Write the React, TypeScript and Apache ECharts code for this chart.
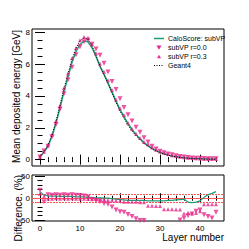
import React, { useEffect, useRef } from 'react';
import * as echarts from 'echarts';

const layers = [0, 1, 2, 3, 4, 5, 6, 7, 8, 9, 10, 11, 12, 13, 14, 15, 16, 17, 18, 19, 20, 21, 22, 23, 24, 25, 26, 27, 28, 29, 30, 31, 32, 33, 34, 35, 36, 37, 38, 39, 40, 41, 42, 43, 44];

const geant4 = [0.2, 0.5, 0.9, 1.55, 2.4, 3.4, 4.45, 5.4, 6.3, 7.0, 7.45, 7.65, 7.55, 7.15, 6.55, 5.9, 5.35, 4.8, 4.2, 3.6, 3.05, 2.6, 2.15, 1.8, 1.5, 1.25, 1.02, 0.83, 0.67, 0.54, 0.43, 0.35, 0.28, 0.22, 0.18, 0.14, 0.11, 0.09, 0.07, 0.06, 0.05, 0.04, 0.035, 0.03, 0.03];
const caloScore = [0.17, 0.47, 0.855, 1.47, 2.28, 3.26, 4.27, 5.18, 6.11, 6.79, 7.23, 7.45, 7.4, 7.02, 6.48, 5.84, 5.35, 4.8, 4.24, 3.67, 3.14, 2.7, 2.26, 1.89, 1.58, 1.31, 1.07, 0.88, 0.71, 0.57, 0.46, 0.37, 0.29, 0.23, 0.19, 0.144, 0.112, 0.097, 0.076, 0.065, 0.053, 0.039, 0.032, 0.027, 0.026];
const subVP00 = [0.16, 0.54, 0.84, 1.43, 2.21, 3.16, 4.14, 5.02, 5.8, 6.58, 7.08, 7.4, 7.5, 7.25, 6.95, 6.55, 6.05, 5.5, 4.9, 4.4, 3.82, 3.28, 2.82, 2.42, 2.03, 1.72, 1.38, 1.1, 0.84, 0.66, 0.52, 0.43, 0.36, 0.3, 0.25, 0.2, 0.16, 0.13, 0.11, 0.09, 0.08, 0.07, 0.06, 0.05, 0.05];
const subVP03 = [0.18, 0.49, 0.9, 1.57, 2.42, 3.4, 4.49, 5.4, 6.36, 7.0, 7.5, 7.7, 7.65, 7.25, 6.68, 6.02, 5.51, 4.99, 4.37, 3.78, 3.23, 2.8, 2.32, 1.94, 1.62, 1.36, 1.11, 0.97, 0.78, 0.63, 0.51, 0.44, 0.35, 0.28, 0.22, 0.18, 0.15, 0.12, 0.095, 0.08, 0.064, 0.046, 0.04, 0.035, 0.035];

const diffCalo = [15, 7, 5, 5, 5, 4, 4, 4, 4, 3, 3, 3, 2, 2, 1, 1, 0, 0, -1, -2, -3, -4, -5, -5, -5, -5, -5, -6, -6, -6, -6, -6, -5, -5, -4, -3, -2, -9, -10, -9, -6, 2, 8, 11, 15];
const diffSub00 = [18, -8, 8, 7, 8, 7, 8, 7, 8, 7, 6, 5, 3, -3, -6, -8, -12, -14, -20, -27, -31, -32, -37, -42, -47, -51, -51, -58, -63, -66, -68, -68, -66, -62, -57, -50, -45, -40, -36, -30, -27, -38, -42, -45, -32];
const diffSub03 = [10, 4, -1, -1, 0, -1, 0, -1, 0, -1, -1, -1, -2, -2, -2, -3, -3, -4, -5, -5, -6, -8, -8, -8, -8, -9, -9, -17, -17, -18, -18, -25, -25, -25, -26, -26, -35, -33, -35, -34, -30, -14, -14, -14, -14];

const xMajor = [0, 10, 20, 30, 40];
const xMinor = [0, 2, 4, 6, 8, 10, 12, 14, 16, 18, 20, 22, 24, 26, 28, 30, 32, 34, 36, 38, 40, 42, 44];
const yTopMajor = [0, 2, 4, 6, 8];
const yTopMinor = [0, 0.5, 1, 1.5, 2, 2.5, 3, 3.5, 4, 4.5, 5, 5.5, 6, 6.5, 7, 7.5, 8];
const yBotMajor = [-50, 0, 50];
const yBotMinor = [-50, -40, -30, -20, -10, 0, 10, 20, 30, 40, 50];
const refLines = [0, 10, -10];

const FONT = 'Liberation Sans, Arial, Helvetica, sans-serif';
const GREEN = '#1b9e77';
const PINK = '#e7298a';

const zip = (ys: number[]) => layers.map((x, i) => [x, ys[i]]);

function axis(kind: 'x' | 'y', gridIndex: number, position: string, min: number, max: number, values: number[], len: number, labels: boolean) {
  return {
    type: 'value',
    gridIndex,
    position,
    min,
    max,
    axisLine: { show: false },
    splitLine: { show: false },
    axisTick: { show: true, inside: true, length: len, customValues: values, lineStyle: { color: '#000', width: 1 } },
    axisLabel: {
      show: labels,
      customValues: values,
      margin: kind === 'x' ? 3 : 2,
      fontFamily: FONT,
      fontSize: 8,
      color: '#000',
    },
  };
}

export default function App() {
  const ref = useRef<HTMLDivElement>(null);
  useEffect(() => {
    const chart = echarts.init(ref.current!, null, { renderer: 'svg' });
    const option = {
      animation: false,
      backgroundColor: '#fff',
      grid: [
        { left: 32, top: 29, width: 192, height: 137, show: true, borderColor: '#000', borderWidth: 1, backgroundColor: 'transparent' },
        { left: 32, top: 175, width: 192, height: 46, show: true, borderColor: '#000', borderWidth: 1, backgroundColor: 'transparent' },
      ],
      xAxis: [
        axis('x', 0, 'bottom', -2, 46, xMajor, 5, false),
        axis('x', 0, 'bottom', -2, 46, xMinor, 2.5, false),
        axis('x', 0, 'top', -2, 46, xMajor, 5, false),
        axis('x', 0, 'top', -2, 46, xMinor, 2.5, false),
        axis('x', 1, 'bottom', -2, 46, xMajor, 5, true),
        axis('x', 1, 'bottom', -2, 46, xMinor, 2.5, false),
        axis('x', 1, 'top', -2, 46, xMajor, 5, false),
        axis('x', 1, 'top', -2, 46, xMinor, 2.5, false),
      ],
      yAxis: [
        axis('y', 0, 'left', -0.4, 8.2, yTopMajor, 5, true),
        axis('y', 0, 'left', -0.4, 8.2, yTopMinor, 2.5, false),
        axis('y', 0, 'right', -0.4, 8.2, yTopMajor, 5, false),
        axis('y', 0, 'right', -0.4, 8.2, yTopMinor, 2.5, false),
        axis('y', 1, 'left', -52, 53, yBotMajor, 5, true),
        axis('y', 1, 'left', -52, 53, yBotMinor, 2.5, false),
        axis('y', 1, 'right', -52, 53, yBotMajor, 5, false),
        axis('y', 1, 'right', -52, 53, yBotMinor, 2.5, false),
      ],
      series: [
        {
          name: 'CaloScore: subVP', type: 'line', xAxisIndex: 0, yAxisIndex: 0, data: zip(caloScore),
          symbol: 'none', lineStyle: { color: GREEN, width: 1.5 }, z: 2,
        },
        {
          name: 'Geant4', type: 'line', xAxisIndex: 0, yAxisIndex: 0, data: zip(geant4),
          symbol: 'none', lineStyle: { color: '#000', width: 1, type: [1, 1.5] }, z: 4,
        },
        {
          name: 'subVP r=0.0', type: 'scatter', xAxisIndex: 0, yAxisIndex: 0, data: zip(subVP00),
          symbol: 'triangle', symbolRotate: 180, symbolSize: 5, itemStyle: { color: PINK }, z: 3,
        },
        {
          name: 'subVP r=0.3', type: 'scatter', xAxisIndex: 0, yAxisIndex: 0, data: zip(subVP03),
          symbol: 'triangle', symbolSize: 4, itemStyle: { color: PINK }, z: 3,
        },
        {
          name: 'diff CaloScore', type: 'line', xAxisIndex: 4, yAxisIndex: 4, data: zip(diffCalo),
          symbol: 'none', lineStyle: { color: GREEN, width: 1.2 }, z: 3,
          markLine: {
            silent: true, symbol: 'none', label: { show: false }, z: 1,
            data: refLines.map((v) => ({ yAxis: v, lineStyle: { color: '#f55', width: 1, type: v === 0 ? 'solid' : [2, 1] } })),
          },
        },
        {
          name: 'diff r=0.0', type: 'scatter', xAxisIndex: 4, yAxisIndex: 4, data: zip(diffSub00),
          symbol: 'triangle', symbolRotate: 180, symbolSize: 5, itemStyle: { color: PINK }, z: 4,
        },
        {
          name: 'diff r=0.3', type: 'scatter', xAxisIndex: 4, yAxisIndex: 4, data: zip(diffSub03),
          symbol: 'triangle', symbolSize: 4, itemStyle: { color: PINK }, z: 4,
        },
      ],
      graphic: [
        { type: 'text', x: 16, y: 30, rotation: Math.PI / 2, style: { text: 'Mean deposited energy [GeV]', font: `10px ${FONT}`, fill: '#000', align: 'right', verticalAlign: 'middle' } },
        { type: 'text', x: 18, y: 175, rotation: Math.PI / 2, style: { text: 'Difference. (%)', font: `10px ${FONT}`, fill: '#000', align: 'right', verticalAlign: 'middle' } },
        { type: 'text', x: 224, y: 237, style: { text: 'Layer number', font: `10px ${FONT}`, fill: '#000', align: 'right', verticalAlign: 'middle' } },
        { type: 'line', shape: { x1: 154, y1: 38.5, x2: 164, y2: 38.5 }, style: { stroke: GREEN, lineWidth: 1.5 } },
        { type: 'text', x: 168, y: 38.5, style: { text: 'CaloScore: subVP', font: `7px ${FONT}`, fill: '#000', align: 'left', verticalAlign: 'middle' } },
        { type: 'polygon', shape: { points: [[156.5, 45.5], [161.5, 45.5], [159, 49.8]] }, style: { fill: PINK } },
        { type: 'text', x: 168, y: 47.5, style: { text: 'subVP r=0.0', font: `7px ${FONT}`, fill: '#000', align: 'left', verticalAlign: 'middle' } },
        { type: 'polygon', shape: { points: [[157, 58.2], [161, 58.2], [159, 54.8]] }, style: { fill: PINK } },
        { type: 'text', x: 168, y: 56.5, style: { text: 'subVP r=0.3', font: `7px ${FONT}`, fill: '#000', align: 'left', verticalAlign: 'middle' } },
        { type: 'line', shape: { x1: 154, y1: 65.5, x2: 164, y2: 65.5 }, style: { stroke: '#000', lineWidth: 1, lineDash: [1, 1.5] } },
        { type: 'text', x: 168, y: 65.5, style: { text: 'Geant4', font: `7px ${FONT}`, fill: '#000', align: 'left', verticalAlign: 'middle' } },
      ],
    };
    chart.setOption(option as any);
    return () => chart.dispose();
  }, []);
  return <div ref={ref} style={{ position: 'fixed', left: 0, top: 0, width: 249, height: 249 }} />;
}
